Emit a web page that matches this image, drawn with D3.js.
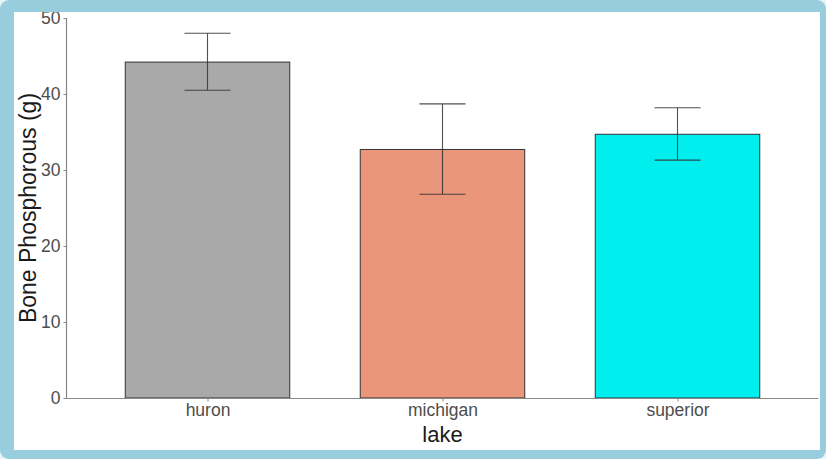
<!DOCTYPE html>
<html><head><meta charset="utf-8">
<script src="https://cdn.jsdelivr.net/npm/d3@7"></script>
<style>html,body{margin:0;padding:0;background:#e6f3f7;}svg{display:block;}</style>
</head><body>
<svg id="c" width="826" height="459"></svg>
<script>
const categories = ["huron", "michigan", "superior"];
const means = [44.2, 32.7, 34.7];
const errLow = [40.5, 26.8, 31.3];
const errHigh = [48.0, 38.7, 38.2];
const colors = ["#A9A9A9", "#E9967A", "#00EEEE"];
const yTicks = [0, 10, 20, 30, 40, 50];

const svg = d3.select("#c");
svg.append("rect").attr("x",0).attr("y",0).attr("width",826).attr("height",459).attr("rx",9).attr("fill","#97cddd");
svg.append("rect").attr("x",14).attr("y",12).attr("width",806).attr("height",438).attr("fill","#ffffff");

const clip = svg.append("defs").append("clipPath").attr("id","inner");
clip.append("rect").attr("x",14).attr("y",12).attr("width",806).attr("height",438);
const g = svg.append("g").attr("clip-path","url(#inner)");

const x = d3.scalePoint().domain(categories).range([66.5, 818.5]).padding(0.6);
const barW = x.step() * 0.7;
const y = d3.scaleLinear().domain([0, 50]).range([398, 18]);

// bars
g.selectAll("rect.bar").data(categories).enter().append("rect")
  .attr("class","bar")
  .attr("x", d => x(d) - barW/2)
  .attr("width", barW)
  .attr("y", (d,i) => y(means[i]))
  .attr("height", (d,i) => y(0) - y(means[i]))
  .attr("fill", (d,i) => colors[i])
  .attr("stroke", "#333333").attr("stroke-width", 1);

// error bars
const capW = barW * 0.28;
categories.forEach((c,i) => {
  const cx = x(c);
  const eg = g.append("g").attr("stroke","#333333").attr("stroke-width",1.1).attr("opacity",0.85);
  eg.append("line").attr("x1",cx).attr("x2",cx).attr("y1",y(errLow[i])).attr("y2",y(errHigh[i]));
  eg.append("line").attr("x1",cx-capW/2).attr("x2",cx+capW/2).attr("y1",y(errLow[i])).attr("y2",y(errLow[i]));
  eg.append("line").attr("x1",cx-capW/2).attr("x2",cx+capW/2).attr("y1",y(errHigh[i])).attr("y2",y(errHigh[i]));
});

// axes
const yAxis = g.append("g").attr("transform","translate(66.5,0)")
  .call(d3.axisLeft(y).tickValues(yTicks).tickSize(3).tickPadding(3));
const xAxis = g.append("g").attr("transform","translate(0,398.5)")
  .call(d3.axisBottom(x).tickSize(3).tickPadding(2).tickSizeOuter(0));
[yAxis, xAxis].forEach(a => {
  a.select(".domain").attr("stroke","#888888").attr("stroke-width",1.2);
  a.selectAll(".tick line").attr("stroke","#888888");
  a.selectAll("text").attr("fill","#4d4d4d").style("font-family","Liberation Sans, Arial, sans-serif").style("font-size","17.5px");
});
yAxis.select(".domain").attr("d","M0,18V398");
xAxis.select(".domain").attr("d","M66.5,0H818.5");

g.append("text").attr("x", (66.5+818.5)/2).attr("y", 442)
  .attr("text-anchor","middle").attr("fill","#1a1a1a")
  .style("font-family","Liberation Sans, Arial, sans-serif").style("font-size","22px").text("lake");
g.append("text").attr("transform","translate(36,208) rotate(-90)")
  .attr("text-anchor","middle").attr("fill","#1a1a1a")
  .style("font-family","Liberation Sans, Arial, sans-serif").style("font-size","23px").text("Bone Phosphorous (g)");
</script>
</body></html>
